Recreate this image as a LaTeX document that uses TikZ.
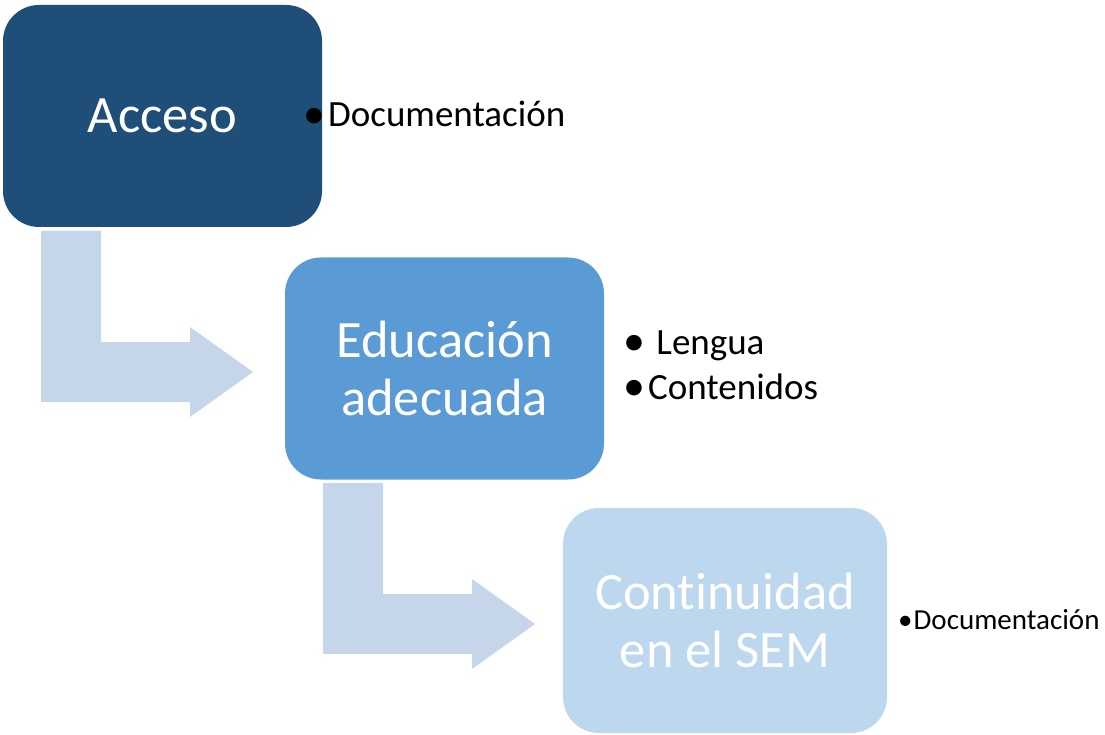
\documentclass[tikz,border=0pt]{standalone}
\usepackage{fontspec}
\setmainfont{Carlito}[Ligatures={NoCommon}]
\usetikzlibrary{calc}
\definecolor{dark}{HTML}{1F4E79}
\definecolor{mid}{HTML}{5B9BD5}
\definecolor{light}{HTML}{BDD7EE}
\definecolor{arrowc}{HTML}{C5D5EA}
\tikzset{
  stagebox/.style={rounded corners=36pt, minimum width=319pt, minimum height=222pt,
    inner sep=0pt, text=white, align=center,
    font=\fontsize{52.5pt}{58pt}\selectfont},
  bullettext/.style={anchor=base west, inner sep=0pt, text=black},
  bigbul/.style={bullettext, font=\fontsize{37pt}{45pt}\selectfont},
  smallbul/.style={bullettext, font=\fontsize{29pt}{35pt}\selectfont},
  bentarrow/.style={fill=arrowc, draw=none}
}
\newcommand{\bigdot}{{\fontsize{44pt}{44pt}\selectfont\raisebox{-1.5pt}{•}}}
\begin{document}
\begin{tikzpicture}[x=1pt,y=-1pt]
\useasboundingbox (0,0) rectangle (1105,735);
% boxes
\node[stagebox, fill=dark] (acc) at (162.5,116) {Acceso};
\node[stagebox, fill=mid] (edu) at (444.5,368.5) {Educación\\adecuada};
\node[stagebox, fill=light, minimum width=324pt, minimum height=225pt] (con) at (725,620.5) {Continuidad\\en el SEM};
% bent arrows
\fill[bentarrow] (41,231) -- (101,231) -- (101,342) -- (190,342) -- (190,327) -- (253,372) -- (190,417) -- (190,402) -- (41,402) -- cycle;
\fill[bentarrow] (323,483) -- (383,483) -- (383,594) -- (472,594) -- (472,579) -- (535,624) -- (472,669) -- (472,654) -- (323,654) -- cycle;
% bullets
\node[bigbul] (b1) at (303,127) {\bigdot\hspace{3pt}Documentación};
\node[bigbul] (b2) at (623,354) {\bigdot\hspace{3pt} Lengua};
\node[bigbul] (b3) at (623,399) {\bigdot\hspace{3pt}Contenidos};
\node[smallbul] (b4) at (898,629) {•\hspace{1pt}Documentación};
\end{tikzpicture}
\end{document}
